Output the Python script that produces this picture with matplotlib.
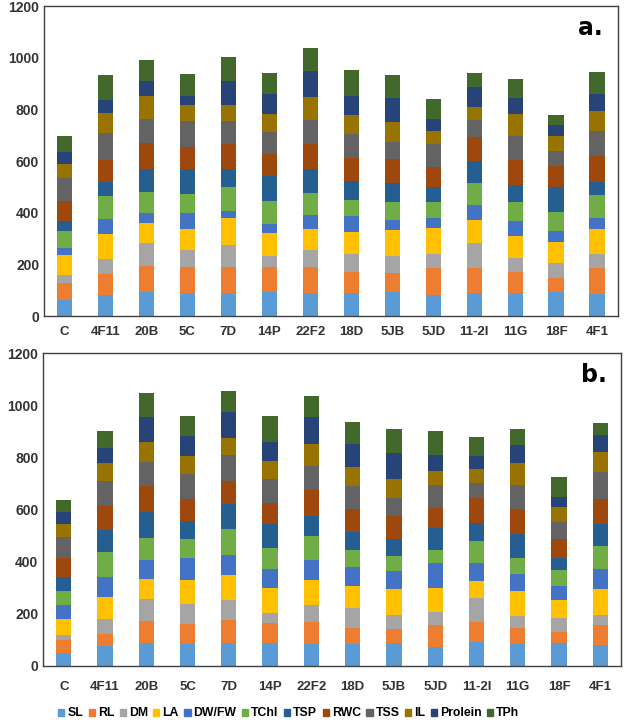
import numpy as np
import matplotlib.pyplot as plt
from matplotlib.patches import Patch

# categories (genotypes) and traits
genotypes = ["C", "4F11", "20B", "5C", "7D", "14P", "22F2", "18D", "5JB", "5JD", "11-2I", "11G", "18F", "4F1"]
traits = ["SL", "RL", "DM", "LA", "DW/FW", "TChl", "TSP", "RWC", "TSS", "IL", "Prolein", "TPh"]
colors = ["#5B9BD5", "#ED7D31", "#A5A5A5", "#FFC000", "#4472C4", "#70AD47",
          "#255E91", "#9E480E", "#636363", "#997300", "#264478", "#43682B"]

# cumulative tops of each segment (panel a)
tops_a = [
    [62, 127, 159, 235, 265, 330, 367, 445, 533, 587, 635, 698],
    [80, 163, 222, 317, 374, 464, 517, 605, 707, 786, 835, 932],
    [93, 195, 281, 361, 398, 481, 569, 670, 764, 851, 908, 991],
    [88, 188, 256, 338, 398, 472, 569, 656, 753, 817, 853, 936],
    [88, 191, 275, 379, 407, 500, 569, 666, 753, 817, 908, 1002],
    [93, 191, 234, 322, 358, 444, 543, 627, 713, 782, 859, 941],
    [88, 188, 256, 338, 391, 476, 569, 667, 760, 847, 949, 1038],
    [88, 172, 239, 325, 387, 451, 524, 612, 705, 777, 851, 953],
    [93, 168, 233, 334, 371, 440, 513, 606, 675, 750, 843, 932],
    [80, 184, 239, 339, 381, 440, 498, 575, 665, 718, 762, 839],
    [88, 184, 281, 371, 431, 516, 599, 693, 758, 811, 887, 941],
    [88, 172, 224, 309, 366, 440, 507, 603, 697, 782, 843, 917],
    [93, 147, 207, 286, 330, 403, 498, 579, 639, 697, 738, 777],
    [85, 184, 241, 338, 381, 468, 517, 619, 716, 794, 860, 945],
]

# panel b
tops_b = [
    [50, 99, 119, 180, 234, 285, 340, 415, 496, 543, 592, 638],
    [74, 122, 180, 264, 341, 435, 522, 612, 710, 779, 838, 901],
    [87, 173, 257, 334, 407, 492, 592, 691, 783, 860, 954, 1046],
    [83, 162, 237, 330, 415, 488, 556, 639, 738, 807, 881, 958],
    [87, 177, 253, 350, 427, 525, 623, 711, 811, 875, 973, 1054],
    [87, 164, 204, 298, 370, 452, 546, 625, 716, 787, 860, 961],
    [83, 168, 232, 330, 407, 499, 576, 674, 766, 852, 954, 1037],
    [82, 144, 221, 306, 379, 443, 515, 601, 689, 763, 852, 936],
    [86, 140, 195, 293, 362, 422, 488, 576, 646, 719, 816, 911],
    [73, 157, 205, 298, 395, 443, 529, 607, 694, 747, 811, 900],
    [90, 168, 261, 325, 394, 479, 548, 643, 702, 755, 804, 879],
    [82, 144, 191, 285, 354, 415, 506, 601, 693, 778, 847, 908],
    [86, 131, 185, 253, 307, 366, 415, 488, 552, 610, 648, 724],
    [78, 157, 195, 293, 370, 460, 544, 642, 743, 820, 888, 932],
]

plt.rcParams['font.family'] = ['Liberation Sans', 'DejaVu Sans']

fig = plt.figure(figsize=(6.25, 7.25), dpi=100)
ax_a = fig.add_axes([0.0704, 0.5641, 0.9176, 0.4276])
ax_b = fig.add_axes([0.0690, 0.0818, 0.9245, 0.4309])


def draw_panel(ax, tops, tag, label_pad):
    tops = np.array(tops, dtype=float)
    vals = np.diff(np.hstack([np.zeros((len(genotypes), 1)), tops]), axis=1)
    x = np.arange(len(genotypes))
    bottom = np.zeros(len(genotypes))
    for j, name in enumerate(traits):
        ax.bar(x, vals[:, j], width=0.37, bottom=bottom, color=colors[j], label=name)
        bottom += vals[:, j]
    ax.set_xlim(-0.5, len(genotypes) - 0.5)
    ax.set_ylim(0, 1200)
    ax.set_yticks(range(0, 1201, 200))
    ax.set_xticks(x)
    ax.set_xticklabels(genotypes, fontweight='bold', fontsize=9.5, color='#333333')
    for t in ax.get_yticklabels():
        t.set_fontweight('bold')
        t.set_fontsize(10)
        t.set_color('#333333')
    ax.tick_params(axis='both', length=0)
    ax.tick_params(axis='x', pad=label_pad)
    for s in ax.spines.values():
        s.set_color('#404040')
        s.set_linewidth(1.0)
    ax.text(0.975, 0.93, tag, transform=ax.transAxes, ha='right', va='center',
            fontsize=17, fontweight='bold', family='DejaVu Sans')


draw_panel(ax_a, tops_a, "a.", 7)
draw_panel(ax_b, tops_b, "b.", 11)

handles = [Patch(color=c) for c in colors]
fig.legend(handles, traits, loc='center', bbox_to_anchor=(0.462, 0.016), ncol=12,
           frameon=False, handlelength=0.5, handleheight=0.5, handletextpad=0.25,
           columnspacing=0.45, prop={'weight': 'bold', 'size': 8.8})

fig.savefig("out.png", dpi=100)
